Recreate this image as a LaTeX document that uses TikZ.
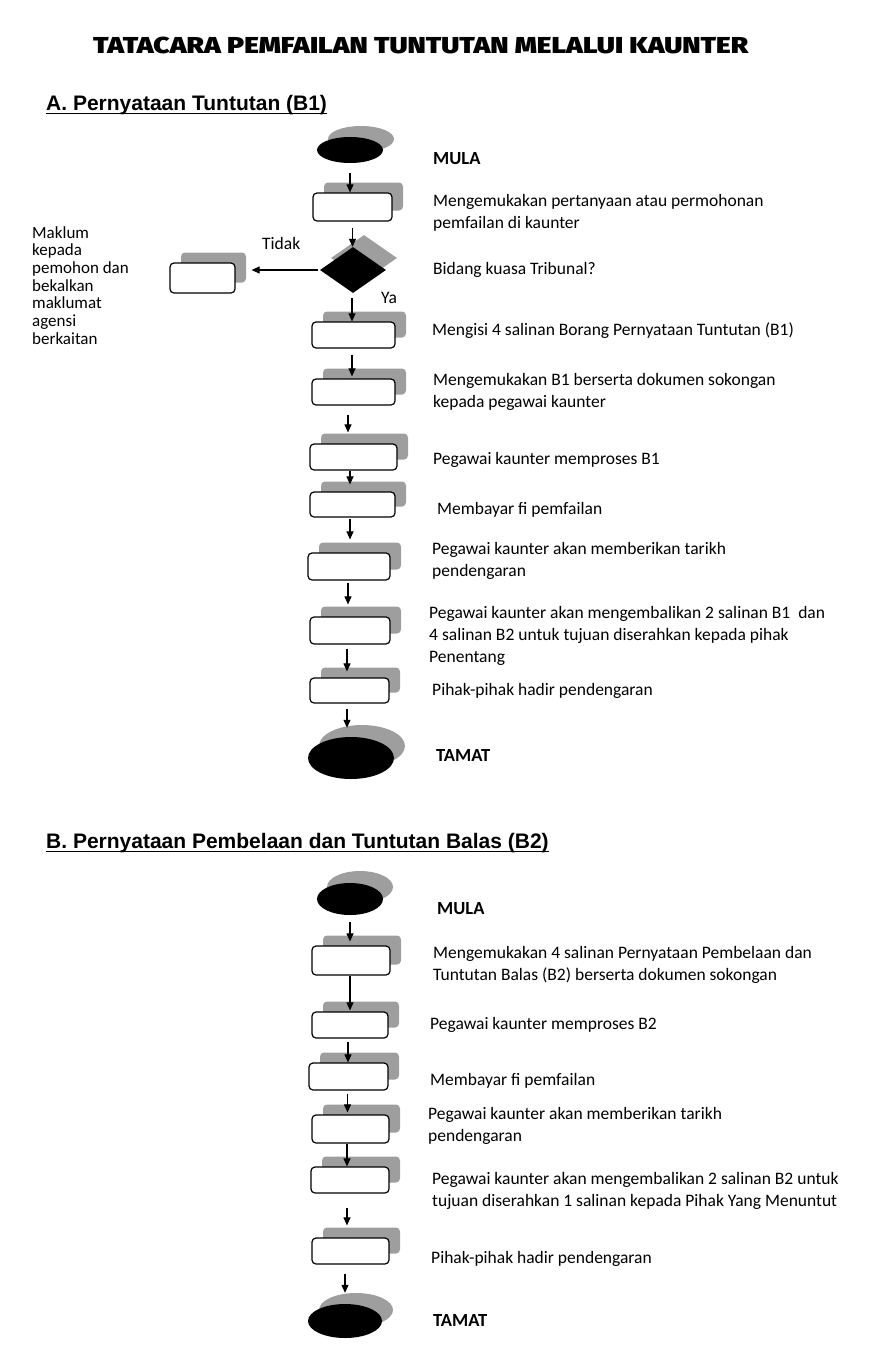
\documentclass[tikz,border=0pt]{standalone}
\usepackage{fontspec}
\setmainfont{Carlito}
\newfontfamily\headfont{Liberation Sans}
\newfontfamily\titlefont{Fira Sans}[UprightFont={* Black}]
\usetikzlibrary{arrows.meta,shapes.geometric,shadows}
\definecolor{shd}{gray}{0.62}
\tikzset{
  sh/.style 2 args={general shadow={shadow xshift=#1pt, shadow yshift=#2pt, fill=shd, draw=none}},
  stepbox/.style 2 args={draw=black, line width=1.2pt, fill=white, rounded corners=4pt, inner sep=0pt,
     minimum width=#1pt, minimum height=#2pt, sh={11}{10.5}},
  termnode/.style 2 args={ellipse, fill=black, draw=none, inner sep=0pt, minimum width=#1pt, minimum height=#2pt},
  decnode/.style={diamond, fill=black, draw=none, inner sep=0pt, minimum width=66pt, minimum height=46pt, sh={11}{12}},
  txt/.style={anchor=base west, inner sep=0pt, font=\fontsize{17.5}{22}\selectfont},
  btxt/.style={anchor=base west, inner sep=0pt, font=\fontsize{18.5}{22}\selectfont\bfseries},
  arr/.style={-{Triangle[length=8pt,width=7pt]}, line width=1.1pt},
  headtxt/.style={anchor=base west, inner sep=0pt, font=\headfont\bfseries\fontsize{21}{24}\selectfont}
}
\newcommand\flow[5]{\draw[arr,shorten <=#3pt,shorten >=#4pt] ([xshift=#5pt]#1.south) -- ([xshift=#5pt]#1.south |- #2.north);}
\newcommand\ml[1]{\begin{tabular}[t]{@{}l@{}}#1\end{tabular}}
\begin{document}
\begin{tikzpicture}[x=1pt,y=-1pt]
\useasboundingbox (0,0) rectangle (881,1355);

% title
\node[anchor=base west, inner sep=0pt] (title) at (93,53)
  {\resizebox{655pt}{16.5pt}{\titlefont TATACARA PEMFAILAN TUNTUTAN MELALUI KAUNTER}};

% ===== Section A =====
\node[headtxt] (hA) at (46,110) {A. Pernyataan Tuntutan (B1)};
\draw[line width=1.4pt] ([yshift=-3.5pt]hA.base west) -- ([yshift=-3.5pt]hA.base east);

\node[termnode={66}{26}, sh={11}{11}] (sA) at (350,150) {};
\node[stepbox={79}{28}] (a1) at (352.5,207) {};
\node[decnode] (dec) at (353,270) {};
\node[stepbox={65}{30}] (left) at (202.5,278) {};
\node[stepbox={83}{26}] (a2) at (353.5,335) {};
\node[stepbox={83}{26}] (a3) at (353.5,392) {};
\node[stepbox={87}{26}] (a4) at (353.5,457) {};
\node[stepbox={85}{25}] (a5) at (352.5,504.5) {};
\node[stepbox={82}{27}] (a6) at (349,566.5) {};
\node[stepbox={80}{27}] (a7) at (350,630.5) {};
\node[stepbox={79}{25}] (a8) at (349.5,690.5) {};
\node[termnode={86}{42}, sh={11}{12}] (eA) at (351,758) {};

\flow{sA}{a1}{10}{0}{0}
\flow{a1}{dec}{6}{0}{0}
\flow{dec}{a2}{5}{0}{-1}
\flow{a2}{a3}{6}{2}{-1.5}
\flow{a3}{a4}{9}{11}{-5.5}
\flow{a4}{a5}{0}{7}{-3.5}
\flow{a5}{a6}{1}{13}{-2.5}
\flow{a6}{a7}{2}{12}{-1}
\flow{a7}{a8}{4}{6}{-3}
\flow{a8}{eA}{5}{9}{-2.5}
\draw[arr, shorten <=2pt, shorten >=16pt] (dec.west) -- (dec.west -| left.east);

\node[btxt] (tA1) at (433,164) {MULA};
\node[txt] (tA2) at (433,206) {\ml{Mengemukakan pertanyaan atau permohonan\\pemfailan di kaunter}};
\node[txt] (tA3) at (433,274) {Bidang kuasa Tribunal?};
\node[txt] (tA4) at (432,335) {Mengisi 4 salinan Borang Pernyataan Tuntutan (B1)};
\node[txt] (tA5) at (433,385) {\ml{Mengemukakan B1 berserta dokumen sokongan\\kepada pegawai kaunter}};
\node[txt] (tA6) at (433,464) {Pegawai kaunter memproses B1};
\node[txt] (tA7) at (437,514) {Membayar fi pemfailan};
\node[txt] (tA8) at (432,554) {\ml{Pegawai kaunter akan memberikan tarikh\\pendengaran}};
\node[txt] (tA9) at (429,618) {\ml{Pegawai kaunter akan mengembalikan 2 salinan B1\ \ dan\\4 salinan B2 untuk tujuan diserahkan kepada pihak\\Penentang}};
\node[txt] (tA10) at (432,695) {Pihak-pihak hadir pendengaran};
\node[btxt] (tA11) at (436,761) {TAMAT};
\node[txt] (tidak) at (262,249) {Tidak};
\node[txt] (ya) at (381,303) {Ya};
\node[anchor=base west, inner sep=0pt, font=\fontsize{17}{17.7}\selectfont] (maklum) at (32,238)
  {\ml{Maklum\\kepada\\pemohon dan\\bekalkan\\maklumat\\agensi\\berkaitan}};

% ===== Section B =====
\node[headtxt] (hB) at (46,848) {B. Pernyataan Pembelaan dan Tuntutan Balas (B2)};
\draw[line width=1.4pt] ([yshift=-3.5pt]hB.base west) -- ([yshift=-3.5pt]hB.base east);

\node[termnode={66}{32}, sh={10}{12}] (sB) at (350,899) {};
\node[stepbox={78}{29}] (b1) at (351,960.5) {};
\node[stepbox={76}{26}] (b2) at (350,1025) {};
\node[stepbox={79}{27}] (b3) at (348.5,1076.5) {};
\node[stepbox={77}{28}] (b4) at (350.5,1129) {};
\node[stepbox={78}{26}] (b5) at (350,1180) {};
\node[stepbox={77}{26}] (b6) at (350.5,1251) {};
\node[termnode={74}{34}, sh={11}{11}] (eB) at (345,1321) {};

\flow{sB}{b1}{7}{4}{0}
\flow{b1}{b2}{0}{1}{-1}
\flow{b2}{b3}{3}{0}{-2}
\flow{b3}{b4}{3}{2}{-1}
\flow{b4}{b5}{0}{0}{-3.5}
\flow{b5}{b6}{14}{12}{-3}
\flow{b6}{eB}{9}{11}{-5.5}

\node[btxt] (tB1) at (437,914) {MULA};
\node[txt] (tB2) at (433,958) {\ml{Mengemukakan 4 salinan Pernyataan Pembelaan dan\\Tuntutan Balas (B2) berserta dokumen sokongan}};
\node[txt] (tB3) at (430,1029) {Pegawai kaunter memproses B2};
\node[txt] (tB4) at (430,1085) {Membayar fi pemfailan};
\node[txt] (tB5) at (428,1119) {\ml{Pegawai kaunter akan memberikan tarikh\\pendengaran}};
\node[txt] (tB6) at (432,1184) {\ml{Pegawai kaunter akan mengembalikan 2 salinan B2 untuk\\tujuan diserahkan 1 salinan kepada Pihak Yang Menuntut}};
\node[txt] (tB7) at (431,1263) {Pihak-pihak hadir pendengaran};
\node[btxt] (tB8) at (433,1326) {TAMAT};
\end{tikzpicture}
\end{document}
